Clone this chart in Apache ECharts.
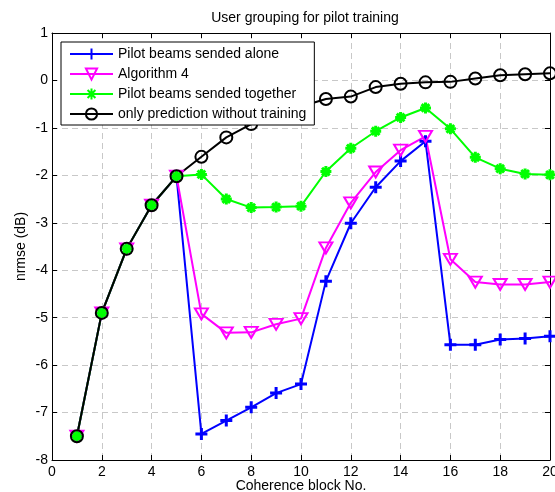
<!DOCTYPE html>
<html>
<head>
<meta charset="utf-8">
<script src="https://cdn.jsdelivr.net/npm/echarts@6/dist/echarts.min.js"></script>
<style>html,body{margin:0;padding:0;background:#fff}#c{width:555px;height:492px}</style>
</head>
<body>
<div id="c"></div>
<script>
var blocks = [1,2,3,4,5,6,7,8,9,10,11,12,13,14,15,16,17,18,19,20];
var alone    = [-7.5,-4.9,-3.55,-2.63,-2.02,-7.45,-7.17,-6.89,-6.59,-6.4,-4.23,-3.01,-2.25,-1.7,-1.28,-5.57,-5.57,-5.46,-5.44,-5.39];
var alg4     = [-7.5,-4.9,-3.55,-2.63,-2.02,-4.92,-5.32,-5.31,-5.14,-5.02,-3.53,-2.58,-1.93,-1.47,-1.18,-3.77,-4.25,-4.3,-4.3,-4.25];
var together = [-7.5,-4.9,-3.55,-2.63,-2.02,-1.98,-2.5,-2.68,-2.67,-2.65,-1.92,-1.43,-1.07,-0.78,-0.58,-1.02,-1.62,-1.86,-1.97,-1.99];
var predOnly = [-7.5,-4.9,-3.55,-2.63,-2.02,-1.61,-1.2,-0.92,-0.72,-0.55,-0.39,-0.34,-0.14,-0.07,-0.04,-0.03,0.04,0.11,0.13,0.15];
var seriesNames = ['Pilot beams sended alone','Algorithm 4','Pilot beams sended together','only prediction without training'];
var titleText = 'User grouping for pilot training';
var xName = 'Coherence block No.';
var yName = 'nrmse (dB)';

function pairs(v){ return blocks.map(function(b,i){ return [b, v[i]]; }); }

var font = 'Liberation Sans, Arial, Helvetica, sans-serif';
var FS = 14;
var chart = echarts.init(document.getElementById('c'), null, {renderer:'canvas'});

var gridLine = {show:true, lineStyle:{color:'#c8c8c8', type:[6,4], width:1}};
var plus = 'path://M5,0L5,10M0,5L10,5';
var star = 'path://M5,0L5,10M0,5L10,5M1.5,1.5L8.5,8.5M8.5,1.5L1.5,8.5';
var tri = 'path://M0,0L10,0L5,8.66Z';

chart.setOption({
  animation:false,
  backgroundColor:'#fff',
  textStyle:{fontFamily:font},
  title:{text:titleText, left:300, top:6, textAlign:'center',
    textStyle:{fontSize:FS, fontWeight:'normal', color:'#000', fontFamily:font}},
  grid:{left:52, right:5, top:33, bottom:32, containLabel:false, outerBoundsMode:'none'},
  legend:{
    z:20, zlevel:0,
    orient:'vertical', left:61, top:42, padding:[5,8,4,8],
    itemWidth:43, itemHeight:14, itemGap:6,
    borderColor:'#000', borderWidth:1, backgroundColor:'#fff',
    textStyle:{fontSize:FS, color:'#000', fontFamily:font, lineHeight:14},
    data:seriesNames
  },
  xAxis:[{
    type:'value', min:0, max:20, interval:2, position:'bottom',
    name:xName, nameLocation:'middle', nameGap:19, nameMoveOverlap:false,
    nameTextStyle:{fontSize:FS, color:'#000', fontFamily:font},
    axisLine:{show:true, onZero:false, lineStyle:{color:'#000', width:1}},
    axisTick:{show:true, inside:true, length:5, lineStyle:{color:'#000'}},
    axisLabel:{fontSize:FS, color:'#000', margin:5, fontFamily:font},
    splitLine:gridLine
  },{
    type:'value', min:0, max:20, interval:2, position:'top',
    axisLine:{show:true, onZero:false, lineStyle:{color:'#000', width:1}},
    axisTick:{show:true, inside:true, length:5, lineStyle:{color:'#000'}},
    axisLabel:{show:false}, splitLine:{show:false}
  }],
  yAxis:[{
    type:'value', min:-8, max:1, interval:1, position:'left',
    name:yName, nameLocation:'middle', nameGap:24, nameRotate:90, nameMoveOverlap:false,
    nameTextStyle:{fontSize:FS, color:'#000', fontFamily:font},
    axisLine:{show:true, onZero:false, lineStyle:{color:'#000', width:1}},
    axisTick:{show:true, inside:true, length:5, lineStyle:{color:'#000'}},
    axisLabel:{fontSize:FS, color:'#000', margin:4, fontFamily:font},
    splitLine:gridLine
  },{
    type:'value', min:-8, max:1, interval:1, position:'right',
    axisLine:{show:true, onZero:false, lineStyle:{color:'#000', width:1}},
    axisTick:{show:true, inside:true, length:5, lineStyle:{color:'#000'}},
    axisLabel:{show:false}, splitLine:{show:false}
  }],
  series:[
    {name:seriesNames[0], type:'line', data:pairs(alone), z:2,
     symbol:plus, symbolSize:12, showAllSymbol:true,
     lineStyle:{color:'#0000ff', width:2},
     itemStyle:{color:'#0000ff', borderColor:'#0000ff', borderWidth:3}},
    {name:seriesNames[1], type:'line', data:pairs(alg4), z:2,
     symbol:tri, symbolSize:[13,11], showAllSymbol:true,
     lineStyle:{color:'#ff00ff', width:2},
     itemStyle:{color:'rgba(255,255,255,0)', borderColor:'#ff00ff', borderWidth:2}},
    {name:seriesNames[2], type:'line', data:pairs(together), z:2,
     symbol:star, symbolSize:11, showAllSymbol:true,
     lineStyle:{color:'#00ff00', width:2},
     itemStyle:{color:'#00ff00', borderColor:'#00ff00', borderWidth:3}},
    {name:seriesNames[3], type:'line', data:pairs(predOnly), z:2,
     symbol:'circle', symbolSize:12, showAllSymbol:true,
     lineStyle:{color:'#000000', width:2},
     itemStyle:{color:'rgba(255,255,255,0)', borderColor:'#000000', borderWidth:2}}
  ]
});
</script>
</body>
</html>
